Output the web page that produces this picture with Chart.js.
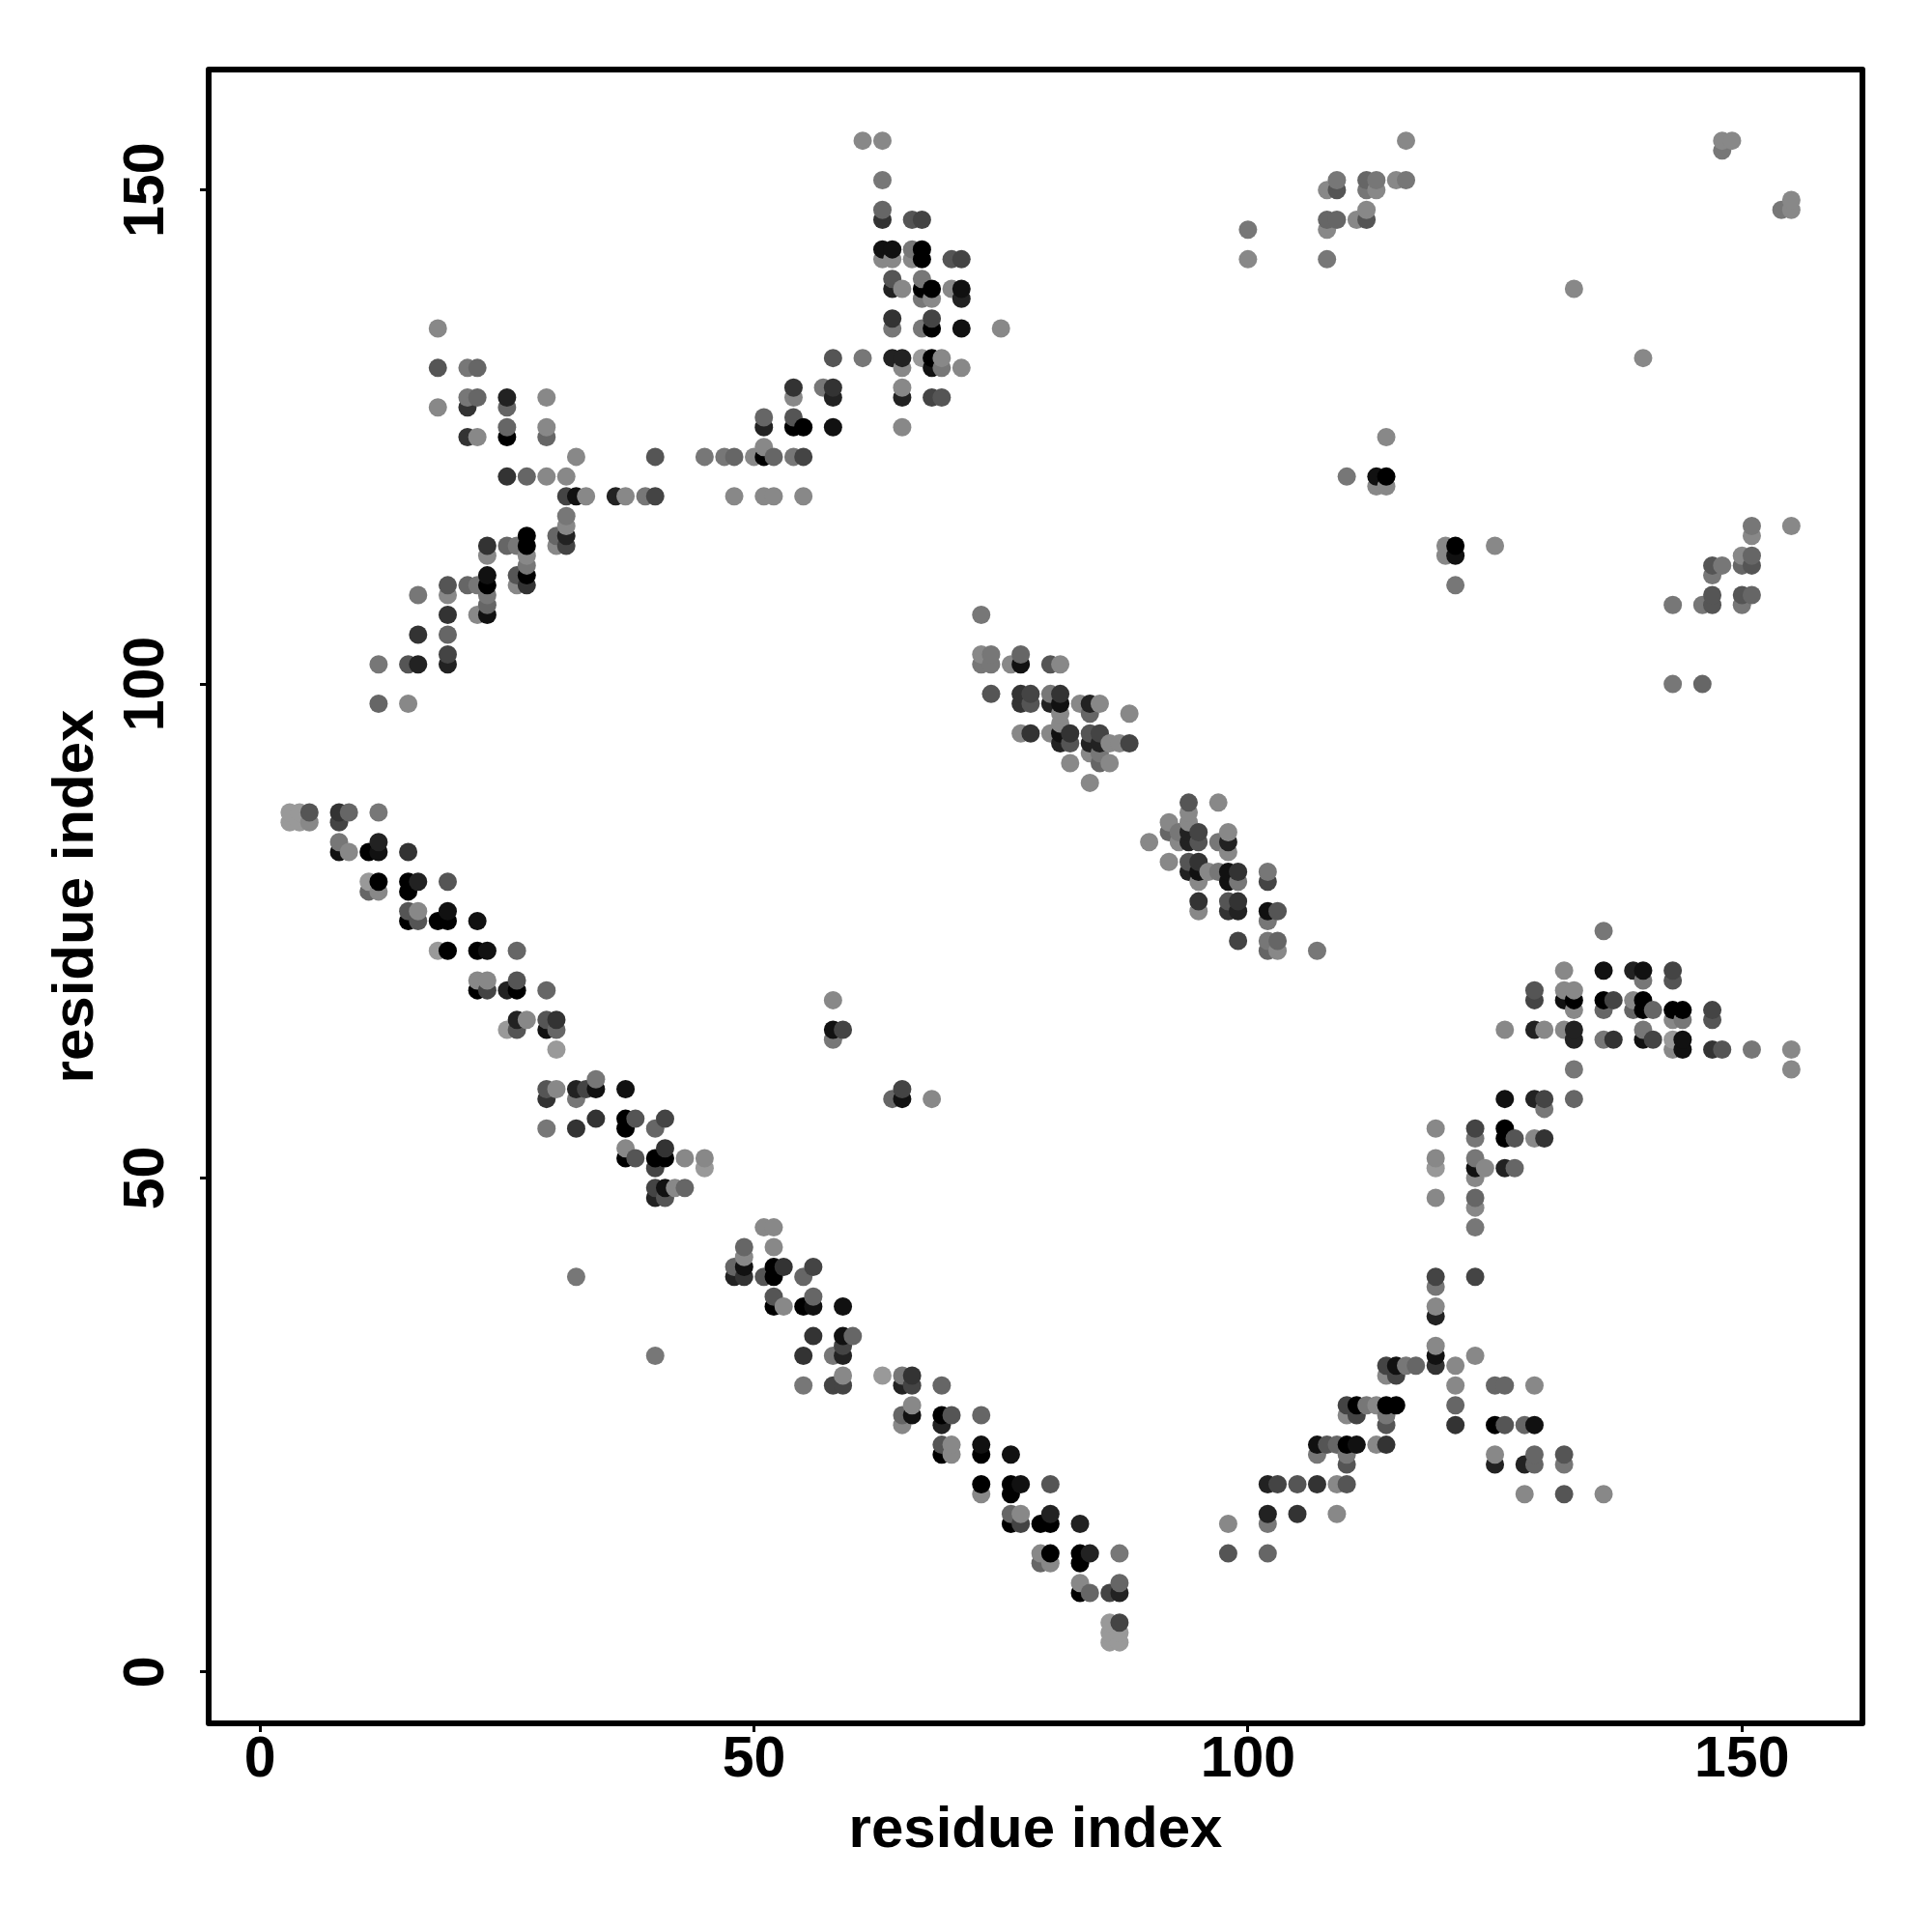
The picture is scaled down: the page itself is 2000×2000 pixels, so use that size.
<!DOCTYPE html>
<html>
<head>
<meta charset="utf-8">
<title>residue contacts</title>
<script src="https://cdn.jsdelivr.net/npm/chart.js@4"></script>
<style>
    body { margin: 0; background: #fff; }
    canvas { display: block; }
</style>
</head>
<body>
<canvas id="contactMap" width="2000" height="2000"></canvas>
<script>
// each contact is [residue i, residue j, distance bin] (bin 0 = closest, 9 = farthest)
const lowerLeftArm = [
    [3,87,9],[4,87,9],[5,87,5],[8,87,3],[9,87,6],[12,87,7],
    [3,86,9],[4,86,9],[5,86,8],[8,86,4],
    [8,84,7],[12,84,2],
    [8,83,1],[9,83,8],[11,83,0],[12,83,1],[15,83,3],
    [11,80,9],[12,80,0],[15,80,0],[16,80,2],[19,80,5],
    [11,79,6],[12,79,8],[15,79,0],
    [15,77,5],[16,77,8],[19,77,1],
    [15,76,0],[16,76,5],[18,76,0],[19,76,0],[22,76,1],
    [18,73,9],[19,73,0],[22,73,0],[23,73,1],[26,73,6],
    [22,70,8],[23,70,8],[26,70,5],
    [22,69,0],[23,69,4],[25,69,2],[26,69,0],[29,69,6],
    [26,66,2],[27,66,8],[29,66,5],[30,66,3],
    [25,65,9],[26,65,5],[29,65,1],[30,65,6],
    [30,63,9],[34,60,7],
    [29,59,5],[30,59,8],[32,59,2],[33,59,4],[34,59,1],[37,59,1],
    [29,58,3],[32,58,7],
    [34,56,3],[37,56,0],[38,56,5],[41,56,4],
    [29,55,7],[32,55,3],[37,55,0],[40,55,6],
    [37,53,8],[41,53,3],
    [37,52,0],[38,52,5],[40,52,0],[41,52,0],[43,52,8],[45,52,8],
    [40,51,4],[45,51,9],
    [40,49,4],[41,49,1],[42,49,8],[43,49,6],
    [40,48,2],[41,48,5]
];

const lowerMiddleArm = [
    [51,45,8],[52,45,8],
    [49,43,6],[52,43,8],[49,42,8],
    [48,41,6],[49,41,1],[52,41,0],[53,41,3],[56,41,4],
    [48,40,2],[49,40,3],[51,40,5],[52,40,0],[55,40,6],
    [52,38,5],[56,38,6],
    [52,37,0],[53,37,8],[55,37,0],[56,37,1],[59,37,1],
    [56,34,3],[59,34,1],[60,34,6],[59,33,4],
    [55,32,3],[58,32,7],[59,32,2],
    [59,30,8],[55,29,7],[58,29,4],[59,29,4],
    [63,30,9],[65,30,7],[66,30,3],[65,29,2],[66,29,4],[69,29,6],
    [66,27,8],[65,26,6],[66,26,1],[65,25,8],
    [69,26,0],[70,26,5],[73,26,6],[69,25,2],
    [69,23,5],[70,23,8],[73,23,1],
    [69,22,0],[70,22,8],[73,22,0],[76,22,1],
    [73,19,0],[73,18,8],[76,19,0],[77,19,1],[76,18,0],[80,19,5],
    [76,16,6],[77,16,8],[80,16,2],
    [76,15,0],[77,15,4],[79,15,0],[80,15,0],[83,15,2],
    [79,12,8],[80,12,0],[83,12,0],[84,12,2],[87,12,7],
    [79,11,6],[80,11,8],[83,11,0],
    [83,9,8],[87,9,6],
    [83,8,0],[84,8,6],[86,8,4],[87,8,2],
    [86,5,9],[87,5,4],[86,4,9],[87,4,9],[86,3,9],[87,3,9]
];

const strayContacts = [
    [32,40,7],[40,32,7],
    [58,68,8],[58,65,1],[59,65,4],[58,64,7],
    [64,58,6],[65,59,4],[65,58,1],[68,58,8]
];

const upperLeftArm = [
    [18,136,8],[18,132,5],[21,132,7],[22,132,6],
    [21,129,7],[22,129,6],[25,129,2],[29,129,8],
    [18,128,8],[21,128,3],[25,128,6],
    [21,125,3],[22,125,8],[25,126,6],[25,125,0],[29,126,8],[29,125,6],
    [32,123,8],[40,123,5],
    [25,121,3],[27,121,6],[29,121,8],[31,121,8],
    [31,119,4],[32,119,1],[33,119,8],[36,119,2],[37,119,8],[39,119,7],[40,119,4],
    [23,114,3],[23,113,8],[25,114,6],[26,114,7],
    [27,115,0],[27,114,0],[27,113,8],[27,112,7],[27,111,0],[27,110,3],
    [26,111,5],[26,110,8],
    [30,115,6],[30,114,8],[31,117,7],[31,116,8],[31,115,2],[31,114,4],
    [23,111,1],[23,110,0],[23,109,7],[23,108,6],[23,107,1],[22,107,8],
    [19,110,5],[19,109,8],[21,110,6],[22,110,7],[16,109,7],
    [19,107,3],[16,105,3],[19,105,6],[19,103,4],[19,102,2],
    [12,102,7],[15,102,5],[16,102,2],[12,98,6],[15,98,8]
];

const upperMiddleArm = [
    [61,155,8],[63,155,8],[63,151,7],
    [63,148,6],[63,147,3],[66,147,5],[67,147,4],
    [63,144,1],[64,144,1],[63,143,8],[64,143,8],
    [66,144,7],[67,144,0],[66,143,8],[67,143,0],[70,143,5],[71,143,4],
    [64,141,5],[64,140,2],[65,140,8],
    [67,141,7],[67,140,0],[67,139,7],[68,140,0],[68,139,8],
    [70,140,8],[71,140,1],[71,139,2],
    [64,137,3],[64,136,7],[67,136,7],[68,137,4],[68,136,0],[71,136,1],[75,136,8],
    [58,133,5],[61,133,7],[64,133,2],[65,133,2],[65,132,8],
    [67,133,9],[68,133,0],[68,132,1],[69,133,8],[69,132,7],[71,132,8],
    [54,130,3],[54,129,8],[57,130,7],[58,130,3],[58,129,2],
    [65,130,8],[65,129,2],[68,129,4],[69,129,5],
    [51,127,6],[51,126,2],[54,127,5],[54,126,0],[55,126,0],[58,126,1],[65,126,8],
    [51,124,8],[45,123,7],[47,123,7],[48,123,6],[50,123,8],[51,123,0],
    [52,123,6],[54,123,7],[55,123,4],
    [48,119,8],[51,119,8],[52,119,8],[55,119,8]
];

const centreBandTop = [
    [73,107,7],
    [73,103,8],[74,103,7],[73,102,7],[74,102,7],[76,102,8],[77,103,6],[77,102,1],[80,102,5],[81,102,8],
    [74,99,5],[77,99,3],[78,99,4],[77,98,3],[78,98,5],
    [80,99,7],[81,99,3],[80,98,2],[81,98,1],[81,97,8],[81,96,8],
    [83,98,8],[84,98,2],[85,98,8],[84,97,6],[88,97,8],
    [77,95,8],[78,95,3],[80,95,8],[81,95,1],[82,95,3],[81,94,2],[82,94,5],
    [84,95,5],[85,95,4],[84,94,2],[85,94,2],[84,93,8],[85,93,7],
    [86,94,8],[87,94,8],[88,94,4],[85,92,6],[86,92,8],[82,92,8],[84,90,8]
];

const centreBandBottom = [
    [94,88,5],[97,88,8],[94,87,8],[94,86,8],[92,86,8],[92,85,6],[93,85,7],
    [90,84,8],[93,84,8],[94,85,2],[94,84,2],[95,85,4],[95,84,5],
    [97,84,7],[98,85,8],[98,84,2],[98,83,8],
    [92,82,8],[94,82,5],[95,82,3],[94,81,2],[95,81,1],[96,81,8],[97,81,7],
    [98,81,1],[99,81,3],[95,80,8],[98,80,1],[99,80,7],[102,81,7],[102,80,4],
    [95,78,3],[95,77,8],[98,78,5],[99,78,3],[98,77,3],[99,77,2],
    [102,77,1],[103,77,5],[102,76,7],
    [99,74,4],[102,74,7],[103,74,6],[102,73,6],[103,73,8],[107,73,7]
];

const lowerRightArm = [
    [119,55,8],[123,55,4],[123,54,7],[126,55,0],[126,54,0],[127,54,5],[129,54,8],[130,54,3],
    [119,52,8],[119,51,9],[123,52,7],[123,51,1],[124,51,8],[123,50,8],[126,51,2],[127,51,6],
    [119,48,8],[123,48,6],[123,47,8],[123,45,7],
    [119,40,4],[119,39,7],[123,40,4],[119,37,8],[119,36,2],
    [119,33,8],[119,32,1],[119,31,3],[123,32,8],
    [121,31,8],[121,29,8],[121,27,6],[121,25,3],
    [114,31,4],[115,31,1],[116,31,7],[117,31,6],[114,30,8],[115,30,4],
    [110,27,4],[111,27,0],[112,27,7],[113,27,8],[114,27,0],[115,27,0],
    [110,26,8],[111,26,4],[114,26,7],[114,25,5],
    [107,23,1],[108,23,5],[109,23,6],[110,23,0],[111,23,1],
    [107,22,7],[110,22,7],[110,21,5],[113,23,8],[114,23,3],
    [102,19,2],[103,19,4],[105,19,5],[107,19,3],[109,19,8],[110,19,5],
    [102,16,2],[105,16,3],[109,16,8],[102,15,7],[98,15,8],[98,12,5],[102,12,6],
    [125,29,6],[126,29,6],[129,29,8],
    [125,25,0],[126,25,5],[128,25,6],[129,25,1],
    [125,22,8],[125,21,2],[128,21,2],[129,22,6],[129,21,6],[132,22,5],[132,21,7],
    [128,18,8],[132,18,5],[136,18,8]
];

const rightShoulder = [
    [136,75,7],[132,71,8],[136,71,1],[139,71,2],[140,71,1],[140,70,7],[143,71,4],[143,70,5],
    [129,69,5],[129,68,4],[132,69,8],[133,69,8],[132,68,1],[133,68,0],[133,67,8],
    [136,68,0],[137,68,4],[136,67,6],[139,68,8],[139,67,6],[140,68,0],[140,67,0],[141,67,6],
    [143,67,0],[144,67,0],[143,66,8],[144,66,7],[147,67,4],[147,66,5],
    [126,65,8],[129,65,2],[130,65,8],[132,65,8],[133,65,2],[133,64,2],
    [136,64,7],[137,64,3],[140,65,7],[140,64,1],[141,64,4],
    [143,64,9],[144,64,1],[143,63,8],[144,63,1],[147,63,3],[148,63,5],[151,63,7],
    [155,63,8],[155,61,8],[133,61,7],
    [126,58,1],[129,58,2],[130,58,4],[130,57,7],[133,58,6]
];

const upperRightGroups = [
    [116,155,8],[148,155,8],[149,155,8],[148,154,7],
    [109,151,7],[108,150,8],[109,150,5],[112,151,6],[113,151,7],[112,150,7],[113,150,8],
    [115,151,8],[116,151,7],
    [155,149,8],[154,148,7],[155,148,8],
    [112,148,8],[112,147,5],[111,147,8],[108,147,6],[109,147,6],[108,146,8],
    [100,146,7],[100,143,8],[108,143,7],
    [133,140,8],[140,133,8],
    [114,125,8],[110,121,7],[113,121,1],[114,121,0],[113,120,8],[114,120,8],
    [120,114,8],[121,114,0],[125,114,8],[120,113,8],[121,113,1],[121,110,7],
    [151,116,7],[155,116,8],[151,115,8],
    [150,113,8],[151,113,6],[150,112,6],[151,112,5],
    [147,112,5],[148,112,7],[147,111,7],
    [147,109,5],[147,108,5],[146,108,7],[143,108,7],
    [150,109,5],[151,109,6],[150,108,7],
    [143,100,7],[146,100,6]
];

const xTickValues = [0, 50, 100, 150];
const yTickValues = [0, 50, 100, 150];
const axisLabel = "residue index";

// juntar tudo e desenhar por coluna, depois por linha
const contacts = [
    ...lowerLeftArm, ...lowerMiddleArm, ...strayContacts, ...upperLeftArm, ...upperMiddleArm,
    ...centreBandTop, ...centreBandBottom, ...lowerRightArm, ...rightShoulder, ...upperRightGroups
].sort((a, b) => a[0] - b[0] || a[1] - b[1]);

function binToGrey(bin) {
    const v = bin * 17;
    return `rgb(${v},${v},${v})`;
}

const family = "'Liberation Sans', Arial, sans-serif";
const tickFont = { family: family, size: 59, weight: "bold" };
const titleFont = { family: family, size: 60, weight: "bold" };

// moldura completa em volta da área do gráfico
const frame = {
    id: "frame",
    afterDatasetsDraw(chart) {
        const { ctx, chartArea: a } = chart;
        ctx.save();
        ctx.strokeStyle = "#000";
        ctx.lineWidth = 6;
        ctx.lineJoin = "round";
        ctx.strokeRect(a.left, a.top, a.right - a.left, a.bottom - a.top);
        ctx.restore();
    }
};

new Chart(document.getElementById("contactMap"), {
    type: "scatter",
    data: {
        datasets: [{
            data: contacts.map(c => ({ x: c[0], y: c[1] })),
            pointBackgroundColor: contacts.map(c => binToGrey(c[2])),
            pointBorderWidth: 0,
            pointRadius: 9.5
        }]
    },
    options: {
        responsive: false,
        animation: false,
        layout: { padding: { top: 72, right: 72 } },
        plugins: { legend: { display: false }, tooltip: { enabled: false } },
        scales: {
            x: {
                min: -5.2,
                max: 162.2,
                afterBuildTicks: s => { s.ticks = xTickValues.map(v => ({ value: v })); },
                afterFit: s => { s.height = 216; },
                grid: { drawOnChartArea: false, tickLength: 9, tickWidth: 3, tickColor: "#000" },
                border: { display: false },
                ticks: { color: "#000", font: tickFont, padding: -6, maxRotation: 0, autoSkip: false },
                title: { display: true, text: axisLabel, color: "#000", font: titleFont, padding: { top: 0, bottom: 69 } }
            },
            y: {
                min: -5.2,
                max: 162.2,
                afterBuildTicks: s => { s.ticks = yTickValues.map(v => ({ value: v })); },
                afterFit: s => { s.width = 216; },
                grid: { drawOnChartArea: false, tickLength: 9, tickWidth: 3, tickColor: "#000" },
                border: { display: false },
                ticks: { color: "#000", font: tickFont, padding: 5, minRotation: 90, maxRotation: 90, crossAlign: "center", autoSkip: false },
                title: { display: true, text: axisLabel, color: "#000", font: titleFont, padding: { top: 43, bottom: 0 } }
            }
        }
    },
    plugins: [frame]
});
</script>
</body>
</html>
